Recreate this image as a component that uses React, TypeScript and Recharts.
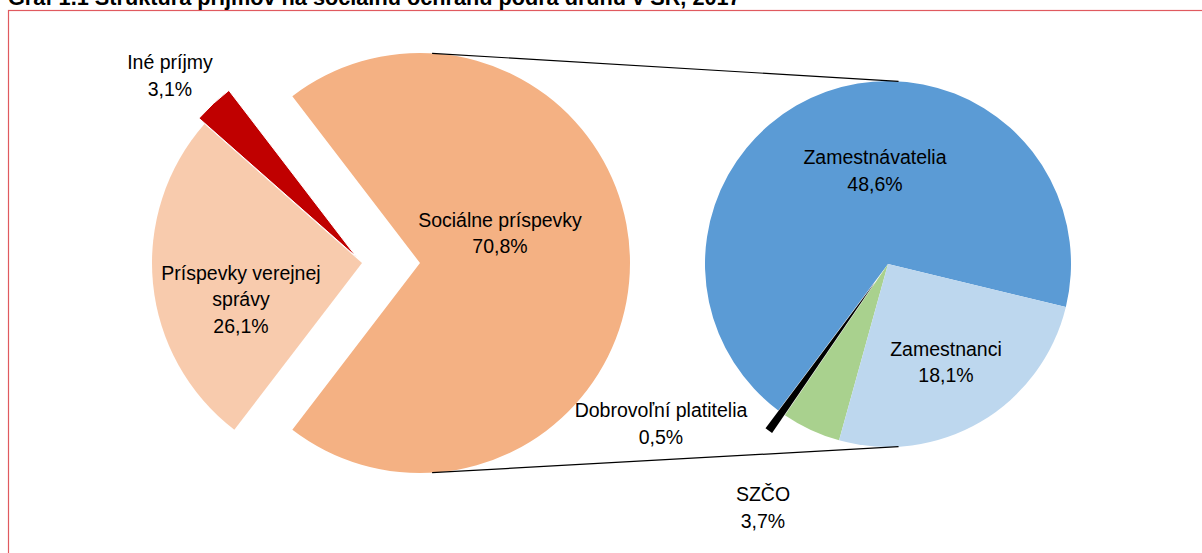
import { PieChart, Pie, Cell } from 'recharts';

// Primary pie (shares of total), listed counter-clockwise from the right-hand slice
const mainNames = ['Sociálne príspevky', 'Iné príjmy', 'Príspevky verejnej správy'];
const mainValues = [70.8, 3.1, 26.1];
const mainColors = ['#F4B183', '#C00000', '#F8CBAD'];

// Secondary pie: breakdown of Sociálne príspevky (shares of total)
const subNames = ['Zamestnávatelia', 'Dobrovoľní platitelia', 'SZČO', 'Zamestnanci'];
const subValues = [48.6, 0.5, 3.7, 18.1];
const subColors = ['#5B9BD5', '#000000', '#A9D18E', '#BDD7EE'];

const mainData = mainNames.map((name, i) => ({ name, value: mainValues[i] }));
const subData = subNames.map((name, i) => ({ name, value: subValues[i] }));

const W = 1202;
const H = 553;
const FONT = '"Liberation Sans", Arial, sans-serif';

// geometry
const MAIN = { cx: 420, cy: 263, r: 210 };
const SUB = { cx: 888, cy: 264, r: 183 };
const MAIN_SHIFT = 58; // separated slices moved left
const RED_EXPLODE = 8;
const BLACK_EXPLODE = 22;
const SUB_START = -13.6;

const mainTotal = mainValues.reduce((a, b) => a + b, 0);
const subTotal = subValues.reduce((a, b) => a + b, 0);
const mainStart = -(mainValues[0] / mainTotal) * 360 / 2;

const RAD = Math.PI / 180;

// bisector angle of slice i
function midAngle(values: number[], total: number, start: number, i: number) {
  let a = start;
  for (let k = 0; k < i; k++) a += (values[k] / total) * 360;
  return a + (values[i] / total) * 180;
}

const redMid = midAngle(mainValues, mainTotal, mainStart, 1);
const blackMid = midAngle(subValues, subTotal, SUB_START, 1);

const redCx = MAIN.cx - MAIN_SHIFT + RED_EXPLODE * Math.cos(redMid * RAD);
const redCy = MAIN.cy - RED_EXPLODE * Math.sin(redMid * RAD);
const blackCx = SUB.cx + BLACK_EXPLODE * Math.cos(blackMid * RAD);
const blackCy = SUB.cy - BLACK_EXPLODE * Math.sin(blackMid * RAD);

const labels = [
  { lines: ['Iné príjmy', '3,1%'], x: 170, y: 69 },
  { lines: ['Príspevky verejnej', 'správy', '26,1%'], x: 241, y: 279.5 },
  { lines: ['Sociálne príspevky', '70,8%'], x: 500, y: 226.5 },
  { lines: ['Zamestnávatelia', '48,6%'], x: 875, y: 164 },
  { lines: ['Zamestnanci', '18,1%'], x: 946, y: 355.5 },
  { lines: ['Dobrovoľní platitelia', '0,5%'], x: 661, y: 417 },
  { lines: ['SZČO', '3,7%'], x: 763, y: 501 },
];

const CONNECT_ANGLE = 86.7;

function Overlay() {
  const a = CONNECT_ANGLE * RAD;
  const lx = MAIN.cx + MAIN.r * Math.cos(a);
  const rx = SUB.cx + SUB.r * Math.cos(a);
  return (
    <svg
      width={W}
      height={H}
      style={{ position: 'absolute', left: 0, top: 0, pointerEvents: 'none', overflow: 'visible' }}
    >
      <rect x={8.5} y={10.5} width={1200} height={600} fill="none" stroke="#E05A5F" strokeWidth={1.2} />
      <text x={8} y={5} fontFamily={FONT} fontWeight="bold" fontSize={21.7} fill="#000">
        Graf 1.1  Štruktúra príjmov na sociálnu ochranu podľa druhu v SR, 2017
      </text>
      <line x1={lx} y1={MAIN.cy - MAIN.r * Math.sin(a)} x2={rx} y2={SUB.cy - SUB.r * Math.sin(a)} stroke="#000" strokeWidth={1.2} />
      <line x1={lx} y1={MAIN.cy + MAIN.r * Math.sin(a)} x2={rx} y2={SUB.cy + SUB.r * Math.sin(a)} stroke="#000" strokeWidth={1.2} />
      {labels.map((l, i) => (
        <text key={i} textAnchor="middle" fontFamily={FONT} fontSize={19.5} fill="#000">
          {l.lines.map((t, j) => (
            <tspan key={j} x={l.x} y={l.y + j * 26.6}>
              {t}
            </tspan>
          ))}
        </text>
      ))}
    </svg>
  );
}

function layer(colors: string[], show: number, stroke?: string) {
  return colors.map((c, i) => (
    <Cell
      key={`c-${i}`}
      fill={i === show ? c : 'none'}
      stroke={i === show && stroke ? stroke : 'none'}
      strokeWidth={1}
    />
  ));
}

export default function App() {
  return (
    <div style={{ position: 'absolute', left: 0, top: 0, width: W, height: H, background: '#fff' }}>
      <PieChart width={W} height={H} margin={{ top: 0, right: 0, bottom: 0, left: 0 }}>
        <Pie
          data={mainData}
          dataKey="value"
          cx={MAIN.cx}
          cy={MAIN.cy}
          outerRadius={MAIN.r}
          startAngle={mainStart}
          endAngle={mainStart + 360}
          isAnimationActive={false}
        >
          {layer(mainColors, 0)}
        </Pie>
        <Pie
          data={mainData}
          dataKey="value"
          cx={MAIN.cx - MAIN_SHIFT}
          cy={MAIN.cy}
          outerRadius={MAIN.r}
          startAngle={mainStart}
          endAngle={mainStart + 360}
          isAnimationActive={false}
        >
          {layer(mainColors, 2)}
        </Pie>
        <Pie
          data={mainData}
          dataKey="value"
          cx={redCx}
          cy={redCy}
          outerRadius={MAIN.r}
          startAngle={mainStart}
          endAngle={mainStart + 360}
          isAnimationActive={false}
        >
          {layer(mainColors, 1, '#fff')}
        </Pie>
        <Pie
          data={subData}
          dataKey="value"
          cx={SUB.cx}
          cy={SUB.cy}
          outerRadius={SUB.r}
          startAngle={SUB_START}
          endAngle={SUB_START + 360}
          isAnimationActive={false}
          stroke="none"
        >
          {subColors.map((c, i) => (
            <Cell key={`s-${i}`} fill={i === 1 ? 'none' : c} stroke="none" />
          ))}
        </Pie>
        <Pie
          data={subData}
          dataKey="value"
          cx={blackCx}
          cy={blackCy}
          outerRadius={SUB.r}
          startAngle={SUB_START}
          endAngle={SUB_START + 360}
          isAnimationActive={false}
        >
          {layer(subColors, 1)}
        </Pie>
      </PieChart>
      <Overlay />
    </div>
  );
}
